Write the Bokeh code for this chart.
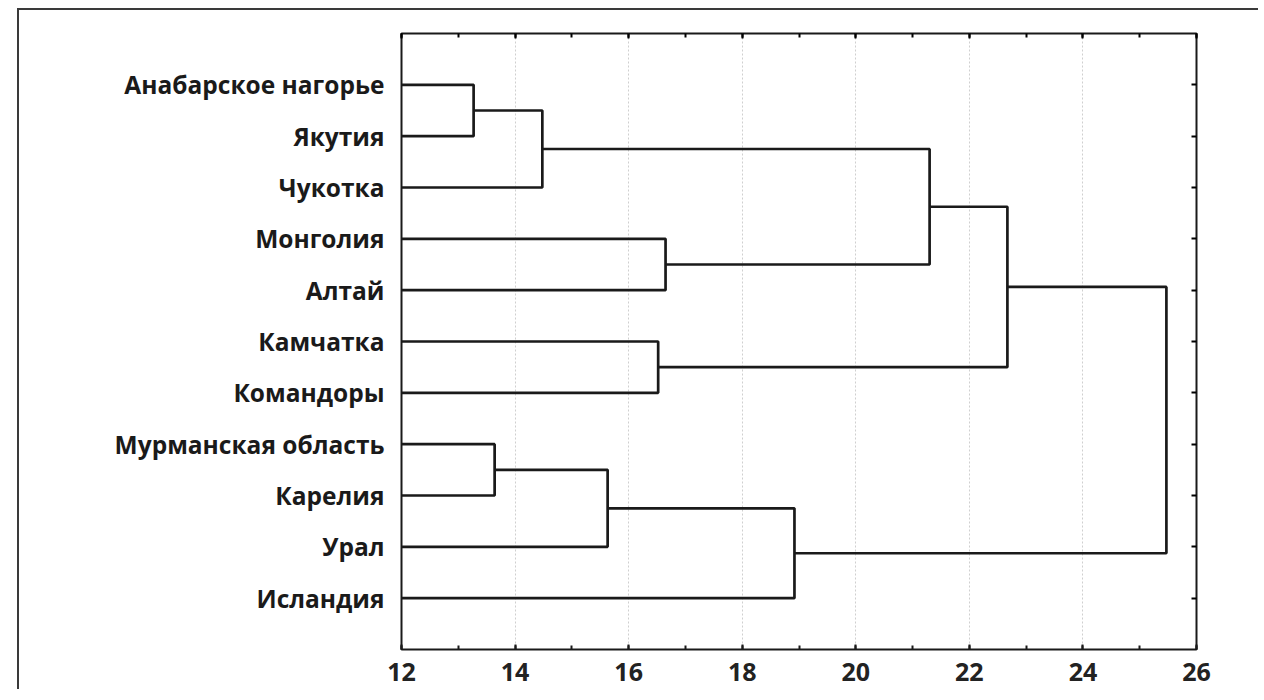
from bokeh.plotting import figure
from bokeh.models import Range1d, FixedTicker, LinearAxis
from bokeh.embed import file_html
from bokeh.resources import INLINE

# Leaves (top to bottom)
labels = ["Анабарское нагорье", "Якутия", "Чукотка", "Монголия", "Алтай",
          "Камчатка", "Командоры", "Мурманская область", "Карелия", "Урал", "Исландия"]
# Merges: node ids 0..10 are leaves, new clusters get ids 11, 12, ...
merge_a = [0, 11, 3, 12, 5, 14, 7, 17, 18, 16]
merge_b = [1, 2, 4, 13, 6, 15, 8, 9, 10, 19]
merge_h = [13.27, 14.48, 16.65, 21.30, 16.52, 22.67, 13.64, 15.63, 18.92, 25.47]
x_ticks = [12, 14, 16, 18, 20, 22, 24, 26]
x_min, x_max = 12, 26

# Compute node positions
pos = {i: i + 1 for i in range(len(labels))}
hgt = {i: x_min for i in range(len(labels))}
xs, ys = [], []
for k, (a, b, h) in enumerate(zip(merge_a, merge_b, merge_h)):
    nid = len(labels) + k
    xs.append([hgt[a], h, h, hgt[b]])
    ys.append([pos[a], pos[a], pos[b], pos[b]])
    pos[nid] = (pos[a] + pos[b]) / 2
    hgt[nid] = h

p = figure(frame_width=795, frame_height=616, output_backend="svg", toolbar_location=None,
           x_range=Range1d(x_min, x_max), y_range=Range1d(len(labels) + 1, 0),
           min_border_left=382, min_border_top=23, min_border_right=62, min_border_bottom=40,
           background_fill_color="white", border_fill_color="white")
p.styles = {"margin-left": "17px", "margin-top": "8px",
            "border-top": "2px solid #3a3a3a", "border-left": "2px solid #3a3a3a"}
p.outline_line_color = "#1a1a1a"
p.outline_line_width = 2

p.multi_line(xs, ys, line_color="#1a1a1a", line_width=2.7)

p.ygrid.visible = False
p.xgrid.ticker = FixedTicker(ticks=x_ticks)
p.xgrid.grid_line_color = "#cfcfcf"
p.xgrid.grid_line_dash = "2 2"
p.xgrid.grid_line_width = 1

FONT = "Open Sans"

xa = p.xaxis[0]
xa.ticker = FixedTicker(ticks=x_ticks, minor_ticks=list(range(x_min, x_max + 1)))
xa.axis_line_color = None
xa.major_tick_in = 5
xa.major_tick_out = 0
xa.minor_tick_in = 4
xa.minor_tick_out = 0
xa.major_tick_line_color = "#1a1a1a"
xa.minor_tick_line_color = "#1a1a1a"
xa.major_tick_line_width = 2
xa.minor_tick_line_width = 2
xa.major_label_text_font = FONT
xa.major_label_text_font_style = "bold"
xa.major_label_text_font_size = "25px"
xa.major_label_text_color = "#222222"
xa.major_label_standoff = 13

top = LinearAxis(ticker=FixedTicker(ticks=x_ticks, minor_ticks=list(range(x_min, x_max + 1))))
top.axis_line_color = None
top.major_tick_in = 5
top.major_tick_out = 0
top.minor_tick_in = 4
top.minor_tick_out = 0
top.major_tick_line_width = 2
top.minor_tick_line_width = 2
top.major_label_text_font_size = "0px"
top.major_label_text_color = None
p.add_layout(top, "above")

ya = p.yaxis[0]
ya.ticker = FixedTicker(ticks=list(range(1, len(labels) + 1)))
ya.major_label_overrides = {i + 1: lab for i, lab in enumerate(labels)}
ya.axis_line_color = None
ya.major_tick_in = 0
ya.major_tick_out = 0
ya.minor_tick_line_color = None
ya.major_label_text_font = FONT
ya.major_label_text_font_style = "bold"
ya.major_label_text_font_size = "24.5px"
ya.major_label_text_color = "#1a1a1a"
ya.major_label_standoff = 17

right = LinearAxis(ticker=FixedTicker(ticks=list(range(1, len(labels) + 1))))
right.axis_line_color = None
right.major_tick_in = 5
right.major_tick_out = 0
right.major_tick_line_width = 2
right.minor_tick_line_color = None
right.major_label_text_font_size = "0px"
right.major_label_text_color = None
p.add_layout(right, "right")

open("out.html", "w").write(file_html(p, INLINE))
